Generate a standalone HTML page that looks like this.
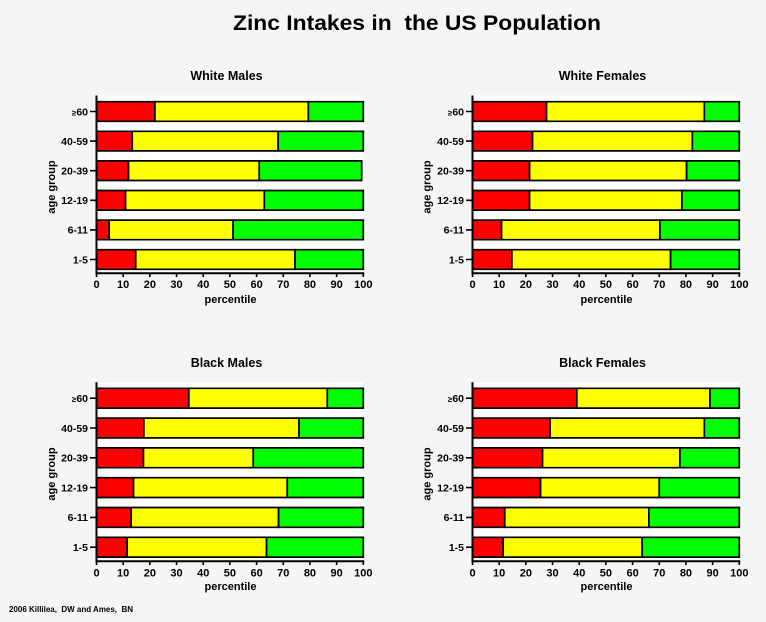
<!DOCTYPE html>
<html><head><meta charset="utf-8">
<style>
html,body{margin:0;padding:0;background:#f5f5f5;}
svg{display:block;}
text{font-family:"Liberation Sans",Arial,sans-serif;font-weight:bold;fill:#000;}
.b rect{stroke:#000;stroke-width:1.7;vector-effect:non-scaling-stroke;}
.r{fill:#ff0000}.y{fill:#ffff00}.g{fill:#00ff00}
.ax{stroke:#000;stroke-width:2;fill:none}
.tk{stroke:#000;stroke-width:1.6}
.xl{font-size:11px;text-anchor:middle}
.yl{font-size:10.5px;text-anchor:end}
.ge{font-size:8px}
.lab{font-size:11px;text-anchor:middle}
.tt{font-size:12.5px;text-anchor:middle}
</style></head><body>
<svg width="766" height="622" viewBox="0 0 766 622" xmlns="http://www.w3.org/2000/svg">
<rect width="766" height="622" fill="#f5f5f5"/>
<text x="233" y="30" font-size="21" textLength="368" lengthAdjust="spacingAndGlyphs" style="white-space:pre">Zinc Intakes in  the US Population</text>
<text x="9" y="612" font-size="8" textLength="124" lengthAdjust="spacingAndGlyphs" style="white-space:pre">2006 Killilea,  DW and Ames,  BN</text>

<!-- ===== White Males ===== -->
<g>
<rect x="96.5" y="95.5" width="266.8" height="178" fill="#fff"/>
<text class="tt" x="226.5" y="80">White Males</text>
<g class="b" transform="translate(96.5,0) scale(2.668,1)">
<rect class="r" x="0" y="101.7" width="21.9" height="19.6"/><rect class="y" x="21.9" y="101.7" width="57.5" height="19.6"/><rect class="g" x="79.4" y="101.7" width="20.6" height="19.6"/>
<rect class="r" x="0" y="131.3" width="13.4" height="19.6"/><rect class="y" x="13.4" y="131.3" width="54.7" height="19.6"/><rect class="g" x="68.1" y="131.3" width="31.9" height="19.6"/>
<rect class="r" x="0" y="160.9" width="12" height="19.6"/><rect class="y" x="12" y="160.9" width="49" height="19.6"/><rect class="g" x="61" y="160.9" width="38.4" height="19.6"/>
<rect class="r" x="0" y="190.5" width="10.9" height="19.6"/><rect class="y" x="10.9" y="190.5" width="52" height="19.6"/><rect class="g" x="62.9" y="190.5" width="37.1" height="19.6"/>
<rect class="r" x="0" y="220.1" width="4.75" height="19.6"/><rect class="y" x="4.75" y="220.1" width="46.45" height="19.6"/><rect class="g" x="51.2" y="220.1" width="48.8" height="19.6"/>
<rect class="r" x="0" y="249.7" width="14.7" height="19.6"/><rect class="y" x="14.7" y="249.7" width="59.7" height="19.6"/><rect class="g" x="74.4" y="249.7" width="25.6" height="19.6"/>
</g>
<line class="ax" x1="96.5" y1="95.5" x2="96.5" y2="274.3"/>
<line class="ax" x1="95.5" y1="273.3" x2="364.3" y2="273.3"/>
<path class="tk" d="M96.5 273v4M123.18 273v4M149.86 273v4M176.54 273v4M203.22 273v4M229.9 273v4M256.58 273v4M283.26 273v4M309.94 273v4M336.62 273v4M363.3 273v4"/>
<path class="tk" d="M90 111.5h6.5M90 141.1h6.5M90 170.7h6.5M90 200.3h6.5M90 229.9h6.5M90 259.5h6.5"/>
<text class="xl" x="96.5" y="288">0</text><text class="xl" x="123.18" y="288">10</text><text class="xl" x="149.86" y="288">20</text><text class="xl" x="176.54" y="288">30</text><text class="xl" x="203.22" y="288">40</text><text class="xl" x="229.9" y="288">50</text><text class="xl" x="256.58" y="288">60</text><text class="xl" x="283.26" y="288">70</text><text class="xl" x="309.94" y="288">80</text><text class="xl" x="336.62" y="288">90</text><text class="xl" x="363.3" y="288">100</text>
<text class="yl" x="88" y="115.3"><tspan class="ge">≥</tspan>60</text><text class="yl" x="88" y="144.9">40-59</text><text class="yl" x="88" y="174.5">20-39</text><text class="yl" x="88" y="204.1">12-19</text><text class="yl" x="88" y="233.7">6-11</text><text class="yl" x="88" y="263.3">1-5</text>
<text class="lab" x="230.5" y="303">percentile</text>
<text class="lab" transform="translate(55,187) rotate(-90)">age group</text>
</g>

<!-- ===== White Females ===== -->
<g>
<rect x="472.5" y="95.5" width="266.8" height="178" fill="#fff"/>
<text class="tt" x="602.5" y="80">White Females</text>
<g class="b" transform="translate(472.5,0) scale(2.668,1)">
<rect class="r" x="0" y="101.7" width="27.75" height="19.6"/><rect class="y" x="27.75" y="101.7" width="59.15" height="19.6"/><rect class="g" x="86.9" y="101.7" width="13.1" height="19.6"/>
<rect class="r" x="0" y="131.3" width="22.5" height="19.6"/><rect class="y" x="22.5" y="131.3" width="59.9" height="19.6"/><rect class="g" x="82.4" y="131.3" width="17.6" height="19.6"/>
<rect class="r" x="0" y="160.9" width="21.4" height="19.6"/><rect class="y" x="21.4" y="160.9" width="58.85" height="19.6"/><rect class="g" x="80.25" y="160.9" width="19.75" height="19.6"/>
<rect class="r" x="0" y="190.5" width="21.4" height="19.6"/><rect class="y" x="21.4" y="190.5" width="57.1" height="19.6"/><rect class="g" x="78.5" y="190.5" width="21.5" height="19.6"/>
<rect class="r" x="0" y="220.1" width="10.9" height="19.6"/><rect class="y" x="10.9" y="220.1" width="59.35" height="19.6"/><rect class="g" x="70.25" y="220.1" width="29.75" height="19.6"/>
<rect class="r" x="0" y="249.7" width="14.75" height="19.6"/><rect class="y" x="14.75" y="249.7" width="59.5" height="19.6"/><rect class="g" x="74.25" y="249.7" width="25.75" height="19.6"/>
</g>
<line class="ax" x1="472.5" y1="95.5" x2="472.5" y2="274.3"/>
<line class="ax" x1="471.5" y1="273.3" x2="740.3" y2="273.3"/>
<path class="tk" d="M472.5 273v4M499.18 273v4M525.86 273v4M552.54 273v4M579.22 273v4M605.9 273v4M632.58 273v4M659.26 273v4M685.94 273v4M712.62 273v4M739.3 273v4"/>
<path class="tk" d="M466 111.5h6.5M466 141.1h6.5M466 170.7h6.5M466 200.3h6.5M466 229.9h6.5M466 259.5h6.5"/>
<text class="xl" x="472.5" y="288">0</text><text class="xl" x="499.18" y="288">10</text><text class="xl" x="525.86" y="288">20</text><text class="xl" x="552.54" y="288">30</text><text class="xl" x="579.22" y="288">40</text><text class="xl" x="605.9" y="288">50</text><text class="xl" x="632.58" y="288">60</text><text class="xl" x="659.26" y="288">70</text><text class="xl" x="685.94" y="288">80</text><text class="xl" x="712.62" y="288">90</text><text class="xl" x="739.3" y="288">100</text>
<text class="yl" x="464" y="115.3"><tspan class="ge">≥</tspan>60</text><text class="yl" x="464" y="144.9">40-59</text><text class="yl" x="464" y="174.5">20-39</text><text class="yl" x="464" y="204.1">12-19</text><text class="yl" x="464" y="233.7">6-11</text><text class="yl" x="464" y="263.3">1-5</text>
<text class="lab" x="606.5" y="303">percentile</text>
<text class="lab" transform="translate(430.5,187) rotate(-90)">age group</text>
</g>

<!-- ===== Black Males ===== -->
<g transform="translate(0,287)">
<rect x="96.5" y="95.3" width="266.8" height="179" fill="#fff"/>
<text class="tt" x="226.5" y="80">Black Males</text>
<g class="b" transform="translate(96.5,0) scale(2.668,1)">
<rect class="r" x="0" y="101.3" width="34.6" height="19.8"/><rect class="y" x="34.6" y="101.3" width="51.9" height="19.8"/><rect class="g" x="86.5" y="101.3" width="13.5" height="19.8"/>
<rect class="r" x="0" y="131.1" width="17.75" height="19.8"/><rect class="y" x="17.75" y="131.1" width="58.15" height="19.8"/><rect class="g" x="75.9" y="131.1" width="24.1" height="19.8"/>
<rect class="r" x="0" y="160.9" width="17.6" height="19.8"/><rect class="y" x="17.6" y="160.9" width="41.15" height="19.8"/><rect class="g" x="58.75" y="160.9" width="41.25" height="19.8"/>
<rect class="r" x="0" y="190.7" width="13.9" height="19.8"/><rect class="y" x="13.9" y="190.7" width="57.6" height="19.8"/><rect class="g" x="71.5" y="190.7" width="28.5" height="19.8"/>
<rect class="r" x="0" y="220.5" width="13" height="19.8"/><rect class="y" x="13" y="220.5" width="55.25" height="19.8"/><rect class="g" x="68.25" y="220.5" width="31.75" height="19.8"/>
<rect class="r" x="0" y="250.3" width="11.5" height="19.8"/><rect class="y" x="11.5" y="250.3" width="52.25" height="19.8"/><rect class="g" x="63.75" y="250.3" width="36.25" height="19.8"/>
</g>
<line class="ax" x1="96.5" y1="95.3" x2="96.5" y2="275.3"/>
<line class="ax" x1="95.5" y1="274.3" x2="364.3" y2="274.3"/>
<path class="tk" d="M96.5 274v4M123.18 274v4M149.86 274v4M176.54 274v4M203.22 274v4M229.9 274v4M256.58 274v4M283.26 274v4M309.94 274v4M336.62 274v4M363.3 274v4"/>
<path class="tk" d="M90 111.2h6.5M90 141h6.5M90 170.8h6.5M90 200.6h6.5M90 230.4h6.5M90 260.2h6.5"/>
<text class="xl" x="96.5" y="289.5">0</text><text class="xl" x="123.18" y="289.5">10</text><text class="xl" x="149.86" y="289.5">20</text><text class="xl" x="176.54" y="289.5">30</text><text class="xl" x="203.22" y="289.5">40</text><text class="xl" x="229.9" y="289.5">50</text><text class="xl" x="256.58" y="289.5">60</text><text class="xl" x="283.26" y="289.5">70</text><text class="xl" x="309.94" y="289.5">80</text><text class="xl" x="336.62" y="289.5">90</text><text class="xl" x="363.3" y="289.5">100</text>
<text class="yl" x="88" y="115"><tspan class="ge">≥</tspan>60</text><text class="yl" x="88" y="144.8">40-59</text><text class="yl" x="88" y="174.6">20-39</text><text class="yl" x="88" y="204.4">12-19</text><text class="yl" x="88" y="234.2">6-11</text><text class="yl" x="88" y="264">1-5</text>
<text class="lab" x="230.5" y="303">percentile</text>
<text class="lab" transform="translate(55,187) rotate(-90)">age group</text>
</g>

<!-- ===== Black Females ===== -->
<g transform="translate(0,287)">
<rect x="472.5" y="95.3" width="266.8" height="179" fill="#fff"/>
<text class="tt" x="602.5" y="80">Black Females</text>
<g class="b" transform="translate(472.5,0) scale(2.668,1)">
<rect class="r" x="0" y="101.3" width="39.1" height="19.8"/><rect class="y" x="39.1" y="101.3" width="49.9" height="19.8"/><rect class="g" x="89" y="101.3" width="11" height="19.8"/>
<rect class="r" x="0" y="131.1" width="29.1" height="19.8"/><rect class="y" x="29.1" y="131.1" width="57.8" height="19.8"/><rect class="g" x="86.9" y="131.1" width="13.1" height="19.8"/>
<rect class="r" x="0" y="160.9" width="26.25" height="19.8"/><rect class="y" x="26.25" y="160.9" width="51.5" height="19.8"/><rect class="g" x="77.75" y="160.9" width="22.25" height="19.8"/>
<rect class="r" x="0" y="190.7" width="25.5" height="19.8"/><rect class="y" x="25.5" y="190.7" width="44.5" height="19.8"/><rect class="g" x="70" y="190.7" width="30" height="19.8"/>
<rect class="r" x="0" y="220.5" width="12.1" height="19.8"/><rect class="y" x="12.1" y="220.5" width="54" height="19.8"/><rect class="g" x="66.1" y="220.5" width="33.9" height="19.8"/>
<rect class="r" x="0" y="250.3" width="11.5" height="19.8"/><rect class="y" x="11.5" y="250.3" width="52.1" height="19.8"/><rect class="g" x="63.6" y="250.3" width="36.4" height="19.8"/>
</g>
<line class="ax" x1="472.5" y1="95.3" x2="472.5" y2="275.3"/>
<line class="ax" x1="471.5" y1="274.3" x2="740.3" y2="274.3"/>
<path class="tk" d="M472.5 274v4M499.18 274v4M525.86 274v4M552.54 274v4M579.22 274v4M605.9 274v4M632.58 274v4M659.26 274v4M685.94 274v4M712.62 274v4M739.3 274v4"/>
<path class="tk" d="M466 111.2h6.5M466 141h6.5M466 170.8h6.5M466 200.6h6.5M466 230.4h6.5M466 260.2h6.5"/>
<text class="xl" x="472.5" y="289.5">0</text><text class="xl" x="499.18" y="289.5">10</text><text class="xl" x="525.86" y="289.5">20</text><text class="xl" x="552.54" y="289.5">30</text><text class="xl" x="579.22" y="289.5">40</text><text class="xl" x="605.9" y="289.5">50</text><text class="xl" x="632.58" y="289.5">60</text><text class="xl" x="659.26" y="289.5">70</text><text class="xl" x="685.94" y="289.5">80</text><text class="xl" x="712.62" y="289.5">90</text><text class="xl" x="739.3" y="289.5">100</text>
<text class="yl" x="464" y="115"><tspan class="ge">≥</tspan>60</text><text class="yl" x="464" y="144.8">40-59</text><text class="yl" x="464" y="174.6">20-39</text><text class="yl" x="464" y="204.4">12-19</text><text class="yl" x="464" y="234.2">6-11</text><text class="yl" x="464" y="264">1-5</text>
<text class="lab" x="606.5" y="303">percentile</text>
<text class="lab" transform="translate(430.5,187) rotate(-90)">age group</text>
</g>
</svg>
</body></html>
